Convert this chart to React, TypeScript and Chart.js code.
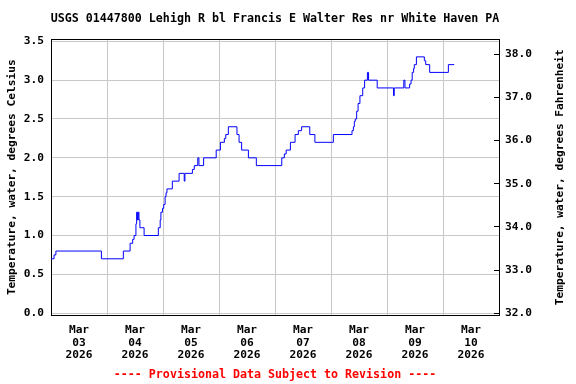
import React, { useEffect, useRef } from 'react';
import { Chart, registerables } from 'chart.js';

Chart.register(...registerables);

const TITLE = 'USGS 01447800 Lehigh R bl Francis E Walter Res nr White Haven PA';
const FOOTER = '---- Provisional Data Subject to Revision ----';
const LEFT_TITLE = 'Temperature, water, degrees Celsius';
const RIGHT_TITLE = 'Temperature, water, degrees Fahrenheit';

// x-axis day labels (centered at noon of each day)
const DAY_MONTHS = ['Mar', 'Mar', 'Mar', 'Mar', 'Mar', 'Mar', 'Mar', 'Mar'];
const DAY_NUMBERS = ['03', '04', '05', '06', '07', '08', '09', '10'];
const DAY_YEARS = ['2026', '2026', '2026', '2026', '2026', '2026', '2026', '2026'];
const LABEL_HOURS = [12, 36, 60, 84, 108, 132, 156, 180];
const MIDNIGHT_HOURS = [24, 48, 72, 96, 120, 144, 168];

// hours since Mar 03 2026 00:00
const HOURS = [
  0, 1.3, 2.1, 21.6, 31.0, 33.9, 35.0, 35.6, 36.4, 36.7, 37.1, 37.4, 37.7, 38.1, 39.9,
  46.0, 46.8, 47.1, 47.8, 48.3, 48.9, 49.3, 49.7, 52.0, 54.9, 57.1, 57.4, 60.6, 61.4,
  62.9, 63.4, 65.4, 70.8, 72.6, 74.3, 74.9, 76.0, 79.7, 80.6, 81.7, 84.6, 88.0, 98.9,
  100.0, 100.8, 102.6, 104.6, 106.0, 107.4, 110.9, 113.1, 121.0, 129.0, 129.6, 130.0,
  130.4, 131.0, 131.6, 132.4, 133.6, 134.4, 135.6, 136.1, 139.8, 146.8, 147.1, 151.2,
  151.7, 153.7, 154.3, 154.8, 155.4, 155.7, 156.6, 160.0, 160.6, 162.3, 170.3, 172.8,
];
const TEMP_C = [
  0.7, 0.75, 0.8, 0.7, 0.8, 0.9, 0.95, 1.0, 1.15, 1.3, 1.2, 1.3, 1.2, 1.1, 1.0,
  1.1, 1.2, 1.3, 1.35, 1.4, 1.5, 1.55, 1.6, 1.7, 1.8, 1.7, 1.8, 1.85, 1.9,
  2.0, 1.9, 2.0, 2.1, 2.2, 2.25, 2.3, 2.4, 2.3, 2.2, 2.1, 2.0, 1.9, 2.0,
  2.05, 2.1, 2.2, 2.3, 2.35, 2.4, 2.3, 2.2, 2.3, 2.35, 2.4, 2.47,
  2.5, 2.6, 2.7, 2.8, 2.9, 3.0, 3.1, 3.0, 2.9, 2.8, 2.9, 3.0,
  2.9, 2.95, 3.0, 3.1, 3.15, 3.2, 3.3, 3.25, 3.2, 3.1, 3.2, 3.2,
];

const C_TICKS = [0, 0.5, 1.0, 1.5, 2.0, 2.5, 3.0, 3.5];
const F_TICKS = [32, 33, 34, 35, 36, 37, 38];
const C_MIN = -0.03;
const C_MAX = 3.53;
const X_MIN = 0;
const X_MAX = 192;

const FONT_FAMILY = "'DejaVu Sans Mono', monospace";
const FONT = { family: FONT_FAMILY, size: 11.2, weight: 'bold' as const, lineHeight: 1.13 };
const BIG_FONT_CSS = `bold 11.65px ${FONT_FAMILY}`;
const AXIS_FONT_CSS = `bold 11.2px ${FONT_FAMILY}`;
const GRID_COLOR = '#c8c8c8';

const textPlugin = {
  id: 'usgsTexts',
  afterDraw(chart: any) {
    const { ctx, chartArea } = chart;
    const cx = (chartArea.left + chartArea.right) / 2;
    const cy = (chartArea.top + chartArea.bottom) / 2;
    ctx.save();
    ctx.textAlign = 'center';
    ctx.textBaseline = 'middle';
    ctx.font = BIG_FONT_CSS;
    ctx.fillStyle = '#000000';
    ctx.fillText(TITLE, cx, 19);
    ctx.fillStyle = '#ff0000';
    ctx.fillText(FOOTER, cx, 374.5);
    ctx.font = AXIS_FONT_CSS;
    ctx.fillStyle = '#000000';
    ctx.translate(560, cy);
    ctx.rotate(-Math.PI / 2);
    ctx.fillText(RIGHT_TITLE, 0, 0);
    ctx.restore();
  },
};

export default function App() {
  const canvasRef = useRef<HTMLCanvasElement | null>(null);

  useEffect(() => {
    const canvas = canvasRef.current;
    if (!canvas) return;
    const data = HOURS.map((h, i) => ({ x: h, y: TEMP_C[i] }));
    const chart = new Chart(canvas, {
      type: 'line',
      data: {
        datasets: [
          {
            data,
            borderColor: '#0000ff',
            borderWidth: 1,
            pointRadius: 0,
            stepped: 'before',
            fill: false,
            xAxisID: 'x',
            yAxisID: 'y',
          },
        ],
      },
      options: {
        animation: false,
        responsive: false,
        devicePixelRatio: 1,
        layout: { padding: { top: 39, bottom: 15.85, left: 0, right: 0 } },
        plugins: {
          legend: { display: false },
          tooltip: { enabled: false },
          title: { display: false },
        },
        scales: {
          x: {
            type: 'linear',
            position: 'bottom',
            min: X_MIN,
            max: X_MAX,
            afterBuildTicks: (s: any) => {
              s.ticks = LABEL_HOURS.map((v) => ({ value: v }));
            },
            afterFit: (s: any) => {
              s.height = 52.65;
            },
            grid: { display: true, color: 'rgba(0,0,0,0)', drawTicks: false },
            border: { display: true, color: '#000000', width: 1 },
            ticks: {
              autoSkip: false,
              maxRotation: 0,
              minRotation: 0,
              padding: 8.2,
              color: '#000000',
              font: FONT,
              callback: (_v: any, i: number) => [DAY_MONTHS[i], DAY_NUMBERS[i], DAY_YEARS[i]],
            },
          },
          x2: {
            type: 'linear',
            position: 'top',
            min: X_MIN,
            max: X_MAX,
            afterBuildTicks: (s: any) => {
              s.ticks = MIDNIGHT_HOURS.map((v) => ({ value: v }));
            },
            afterFit: (s: any) => {
              s.height = 0;
            },
            grid: { display: true, color: GRID_COLOR, lineWidth: 1, drawTicks: false },
            border: { display: true, color: '#000000', width: 1 },
            ticks: { display: false },
          },
          y: {
            type: 'linear',
            position: 'left',
            min: C_MIN,
            max: C_MAX,
            afterBuildTicks: (s: any) => {
              s.ticks = C_TICKS.map((v) => ({ value: v }));
            },
            afterFit: (s: any) => {
              s.width = 51;
            },
            grid: { display: true, color: GRID_COLOR, lineWidth: 1, drawTicks: false },
            border: { display: true, color: '#000000', width: 1 },
            ticks: {
              padding: 7,
              color: '#000000',
              font: FONT,
              callback: (v: any) => Number(v).toFixed(1),
            },
            title: {
              display: true,
              text: LEFT_TITLE,
              color: '#000000',
              font: FONT,
              padding: { top: 5.7, bottom: 0 },
            },
          },
          y2: {
            type: 'linear',
            position: 'right',
            min: C_MIN * 1.8 + 32,
            max: C_MAX * 1.8 + 32,
            afterBuildTicks: (s: any) => {
              s.ticks = F_TICKS.map((v) => ({ value: v }));
            },
            afterFit: (s: any) => {
              s.width = 77;
            },
            grid: {
              display: true,
              drawOnChartArea: false,
              drawTicks: true,
              tickLength: -5,
              color: '#000000',
              lineWidth: 1,
            },
            border: { display: true, color: '#000000', width: 1 },
            ticks: {
              padding: 11,
              color: '#000000',
              font: FONT,
              callback: (v: any) => Number(v).toFixed(1),
            },
          },
        },
      },
      plugins: [textPlugin],
    });
    return () => chart.destroy();
  }, []);

  return (
    <div style={{ position: 'fixed', left: 0, top: 0, width: 576, height: 384, background: '#ffffff' }}>
      <canvas ref={canvasRef} width={576} height={384} style={{ width: 576, height: 384, display: 'block' }} />
    </div>
  );
}
